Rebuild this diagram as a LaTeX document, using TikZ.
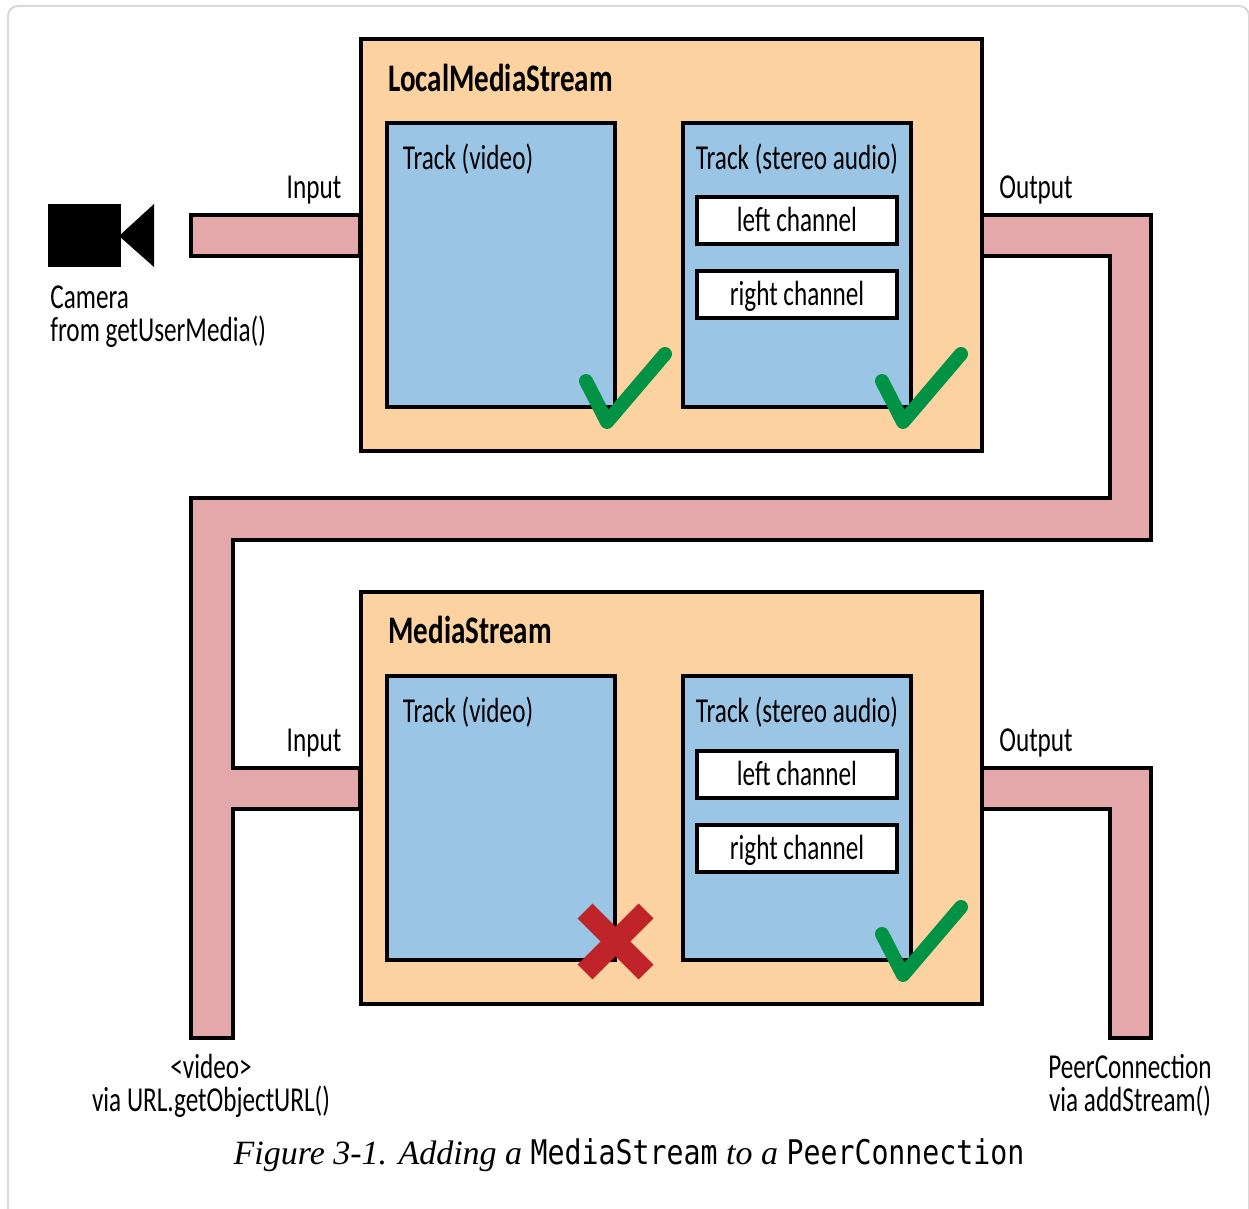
\documentclass[tikz,border=0pt]{standalone}
\usepackage{fontspec}
\setmainfont{Liberation Serif}
\setmonofont{Liberation Mono}
\newfontfamily\labelfont[FakeStretch=0.72]{Carlito}
\newfontfamily\titlefont[FakeStretch=0.745]{Carlito}
\newfontfamily\capmono[FakeStretch=0.83]{DejaVu Sans Mono}
\definecolor{peach}{HTML}{FCD2A1}
\definecolor{trackblue}{HTML}{9AC5E5}
\definecolor{pipepink}{HTML}{E5A8AA}
\definecolor{tickgreen}{HTML}{009245}
\definecolor{crossred}{HTML}{BE2429}
\begin{document}
\begin{tikzpicture}[x=0.5pt,y=-0.5pt,
	pipe/.style={draw=black,fill=pipepink,line width=2pt,line join=miter},
	streambox/.style={draw=black,fill=peach,line width=2pt,inner sep=0pt,outer sep=0pt,anchor=north west,minimum width=310.5pt,minimum height=206pt},
	trackbox/.style={draw=black,fill=trackblue,line width=2pt,inner sep=0pt,outer sep=0pt,anchor=north west,minimum width=114pt,minimum height=142pt},
	channel/.style={draw=black,fill=white,line width=2pt,inner sep=0pt,outer sep=0pt,minimum width=100pt,minimum height=23.5pt,text height=13pt,text depth=2pt,font=\labelfont\fontsize{17.5}{18}\selectfont},
	lbl/.style={inner sep=0pt,font=\labelfont\fontsize{17.5}{18}\selectfont},
	lbl2/.style={lbl,align=center,font=\labelfont\fontsize{17.5}{16.5}\selectfont},
	title/.style={inner sep=0pt,anchor=west,font=\titlefont\bfseries\fontsize{19.5}{20}\selectfont},
	tick/.style={draw=tickgreen,line width=7pt,line cap=round,line join=round},
	cross/.style={draw=crossred,line width=10.5pt}]
	\useasboundingbox (0,0) rectangle (1249,1209);
	\fill [white] (0,0) rectangle (1249,1209);
	% page card
	\draw [line width=1pt,draw=black!15,rounded corners=5pt] (8,1240) -- (8,6) -- (1249,6) -- (1249,1240);
	% pipes
	\draw [pipe] (191,215) -- (360,215) -- (360,256) -- (191,256) -- cycle;
	\draw [pipe] (983,215) -- (1151,215) -- (1151,540) -- (233,540) -- (233,768) -- (360,768) -- (360,809) -- (233,809) -- (233,1038) -- (191,1038) -- (191,498) -- (1110,498) -- (1110,256) -- (983,256);
	\draw [pipe] (983,768) -- (1151,768) -- (1151,1038) -- (1110,1038) -- (1110,809) -- (983,809);
	% upper stream
	\node [streambox] (localstream) at (361,39) {};
	\node [title] (localtitle) at (388,78) {LocalMediaStream};
	\node [trackbox] (videotop) at (387,123) {};
	\node [trackbox] (audiotop) at (683,123) {};
	\node [lbl] (videotoplabel) at (468,159) {Track (video)};
	\node [lbl] (audiotoplabel) at (797,159) {Track (stereo audio)};
	\node [channel] (lefttop) at (797,221) {left channel};
	\node [channel] (righttop) at (797,295) {right channel};
	\draw [tick] (586,381) -- (607,422) -- (665,354);
	\draw [tick] (882,381) -- (903,422) -- (961,354);
	% lower stream
	\node [streambox] (mediastream) at (361,592) {};
	\node [title] (mediatitle) at (388,630) {MediaStream};
	\node [trackbox] (videobot) at (387,676) {};
	\node [trackbox] (audiobot) at (683,676) {};
	\node [lbl] (videobotlabel) at (468,712) {Track (video)};
	\node [lbl] (audiobotlabel) at (797,712) {Track (stereo audio)};
	\node [channel] (leftbot) at (797,774) {left channel};
	\node [channel] (rightbot) at (797,848) {right channel};
	\draw [cross] (585,911) -- (646,972);
	\draw [cross] (646,911) -- (585,972);
	\draw [tick] (882,934) -- (903,975) -- (961,907);
	% camera
	\fill [black] (48,204) rectangle (121,267);
	\fill [black] (119,236) -- (154,204) -- (154,267) -- cycle;
	% labels
	\node [lbl] (inputtop) at (314,190) {Input};
	\node [lbl] (outputtop) at (1036,190) {Output};
	\node [lbl] (inputbot) at (314,743) {Input};
	\node [lbl] (outputbot) at (1036,743) {Output};
	\node [lbl2,anchor=north west,align=left] (camera) at (50,285) {Camera\\from getUserMedia()};
	\node [lbl2,anchor=north] (videolabel) at (211,1054) {<video>\\via URL.getObjectURL()};
	\node [lbl2,anchor=north] (peerlabel) at (1130,1054) {PeerConnection\\via addStream()};
	\node [inner sep=0pt,font=\fontsize{17}{20}\selectfont] (caption) at (629,1155) {\textit{Figure 3-1. Adding a} {\capmono MediaStream} \textit{to a} {\capmono PeerConnection}};
\end{tikzpicture}
\end{document}
